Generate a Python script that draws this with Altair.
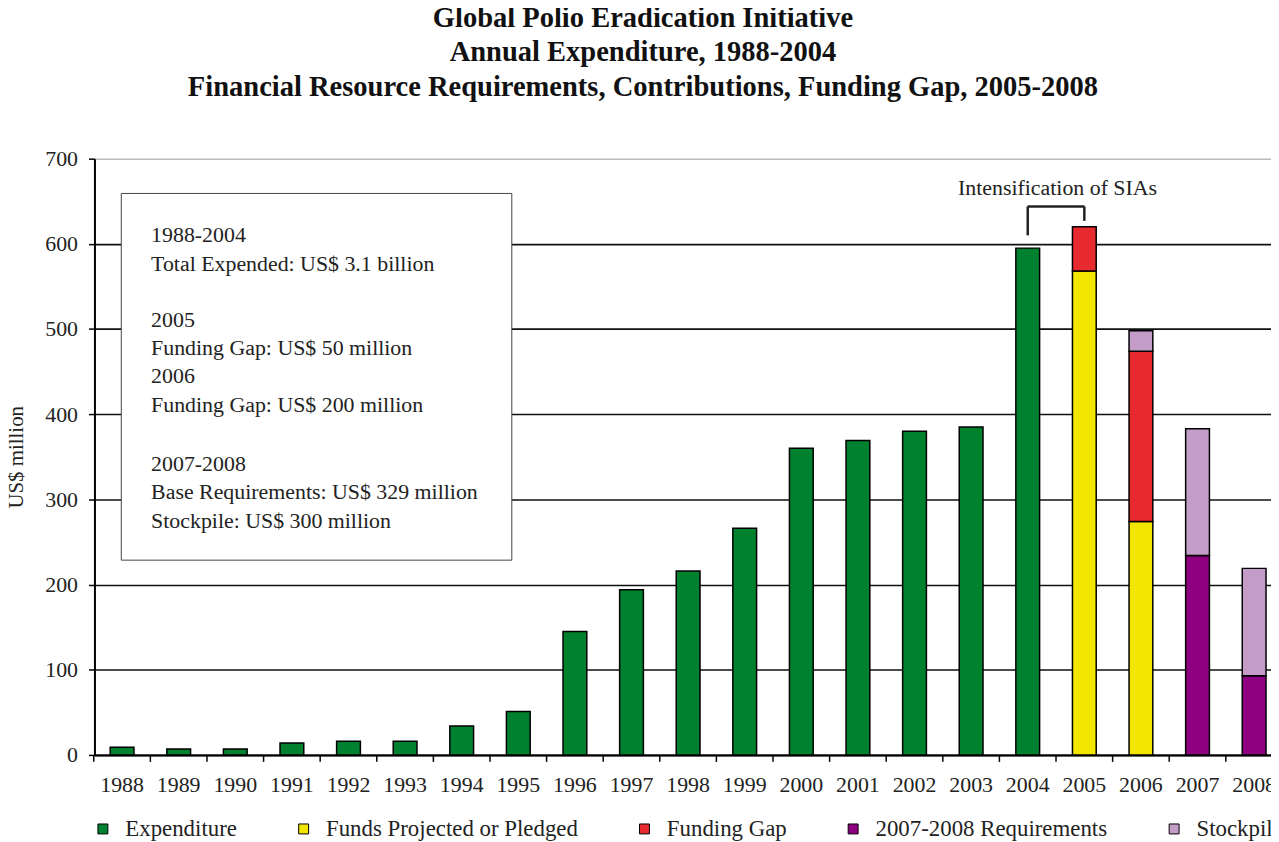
import altair as alt
import pandas as pd

# ---------------- data ----------------
years = [str(y) for y in range(1988, 2009)]
exp_years = [str(y) for y in range(1988, 2005)]
expenditure = [9, 7, 7, 14, 16, 16, 34, 51, 145, 194, 216, 266, 360, 369, 380, 385, 595]
funds_years = ["2005", "2006"]
funds_projected = [568, 274]
gap_years = ["2005", "2006"]
funding_gap = [52, 200]
req_years = ["2007", "2008"]
requirements = [234, 93]
stock_years = ["2006", "2007", "2008"]
stockpile = [24, 149, 126]

categories = ["Expenditure", "Funds Projected or Pledged", "Funding Gap",
              "2007-2008 Requirements", "Stockpile"]
colors = ["#00812F", "#F2E500", "#E72A30", "#8E0080", "#C39CC8"]

y_ticks = [0, 100, 200, 300, 400, 500, 600, 700]

box_group1 = ["1988-2004", "Total Expended: US$ 3.1 billion"]
box_group2 = ["2005", "Funding Gap: US$ 50 million",
              "2006", "Funding Gap: US$ 200 million"]
box_group3 = ["2007-2008", "Base Requirements: US$ 329 million",
              "Stockpile: US$ 300 million"]

rows = []
for cat_i, (ys, vs) in enumerate([(exp_years, expenditure), (funds_years, funds_projected),
                                  (gap_years, funding_gap), (req_years, requirements),
                                  (stock_years, stockpile)]):
    for y, v in zip(ys, vs):
        rows.append({"year": y, "value": v, "category": categories[cat_i], "order": cat_i})
df = pd.DataFrame(rows)

FONT = "Liberation Serif"

x_scale = alt.Scale(domain=years, paddingInner=0.58, paddingOuter=0.183, align=0.76)
y_scale = alt.Scale(domain=[0, 700], nice=False)

bars = alt.Chart(df).mark_bar(stroke="black", strokeWidth=1.5).encode(
    x=alt.X("year:O", scale=x_scale, title=None, sort=years,
            axis=alt.Axis(labelAngle=0, labelFont=FONT, labelFontSize=22, labelColor="#222",
                          ticks=False, tickSize=0, labelPadding=20,
                          domainColor="black", domainWidth=2, grid=False)),
    y=alt.Y("value:Q", scale=y_scale, stack="zero", title="US$ million",
            axis=alt.Axis(values=y_ticks, labelFont=FONT, labelFontSize=22,
                          labelColor="#222", labelPadding=11, tickSize=6, tickWidth=1.5,
                          tickColor="black", domainColor="black", domainWidth=2,
                          titleFont=FONT, titleFontSize=21, titleFontWeight="normal",
                          titleColor="#222", titlePadding=18,
                          grid=True,
                          gridColor=alt.condition("datum.value == 700", alt.value("#9a9a9a"), alt.value("#111")),
                          gridWidth=alt.condition("datum.value == 700", alt.value(1), alt.value(1.6)))),
    color=alt.Color("category:N", scale=alt.Scale(domain=categories, range=colors),
                    legend=alt.Legend(title=None, orient="none", legendX=-3, legendY=663,
                                      direction="horizontal", columns=5, gridAlign="none",
                                      columnPadding=55, symbolType="square", symbolSize=100,
                                      symbolStrokeColor="black", symbolStrokeWidth=1,
                                      labelFont=FONT, labelFontSize=23, labelColor="#222",
                                      labelOffset=11, padding=0, labelLimit=400)),
    order=alt.Order("order:Q", sort="ascending"),
)

# x-axis ticks between categories
ticks = alt.Chart(pd.DataFrame({"year": years})).mark_rule(
    color="black", strokeWidth=1.5, xOffset=-28.5
).encode(x=alt.X("year:O", sort=years), y=alt.value(600), y2=alt.value(607))

# annotation box
box = alt.Chart(pd.DataFrame({"a": [0]})).mark_rect(
    fill="white", stroke="#444", strokeWidth=1
).encode(x=alt.value(27), x2=alt.value(420), y=alt.value(35), y2=alt.value(404))

def box_text(lines, ypix):
    return alt.Chart(pd.DataFrame({"a": [0]})).mark_text(
        align="left", baseline="alphabetic", font=FONT, fontSize=22, color="#222",
        lineHeight=28.6
    ).encode(x=alt.value(57), y=alt.value(ypix), text=alt.value(lines))

text1 = box_text(box_group1, 84)
text2 = box_text(box_group2, 169)
text3 = box_text(box_group3, 314)

# Intensification bracket
bracket_style = dict(color="#222", strokeWidth=2.5)
leg_left = alt.Chart(pd.DataFrame({"a": [0]})).mark_rule(**bracket_style).encode(
    x=alt.XDatum("2004", type="ordinal"), y=alt.YDatum(610), y2=alt.Y2Datum(644))
leg_right = alt.Chart(pd.DataFrame({"a": [0]})).mark_rule(**bracket_style).encode(
    x=alt.XDatum("2005", type="ordinal"), y=alt.YDatum(627), y2=alt.Y2Datum(644))
top_bar = alt.Chart(pd.DataFrame({"a": [0]})).mark_rule(**bracket_style).encode(
    x=alt.XDatum("2004", type="ordinal"), x2=alt.X2Datum("2005"), y=alt.YDatum(644))
sia_text = alt.Chart(pd.DataFrame({"a": [0]})).mark_text(
    font=FONT, fontSize=22, color="#222", align="center", baseline="alphabetic", xOffset=30
).encode(x=alt.XDatum("2004", type="ordinal"), y=alt.YDatum(657),
         text=alt.value("Intensification of SIAs"))

chart = alt.layer(bars, ticks, box, text1, text2, text3,
                  leg_left, leg_right, top_bar, sia_text).properties(
    width=1184, height=600,
    autosize=alt.AutoSizeParams(type="none"),
    padding={"left": 87, "top": 149, "right": 0, "bottom": 85},
    title=alt.TitleParams(
        text=["Global Polio Eradication Initiative", "Annual Expenditure, 1988-2004"],
        subtitle="Financial Resource Requirements, Contributions, Funding Gap, 2005-2008",
        font=FONT, fontSize=28.7, fontWeight="bold", color="#111", lineHeight=34,
        subtitleFont=FONT, subtitleFontSize=28.7, subtitleFontWeight="bold",
        subtitleColor="#111", subtitlePadding=7,
        anchor="middle", dx=-40, offset=46,
    ),
).configure_view(stroke=None)

chart.save("out.html", embed_options={"renderer": "svg", "actions": False})
